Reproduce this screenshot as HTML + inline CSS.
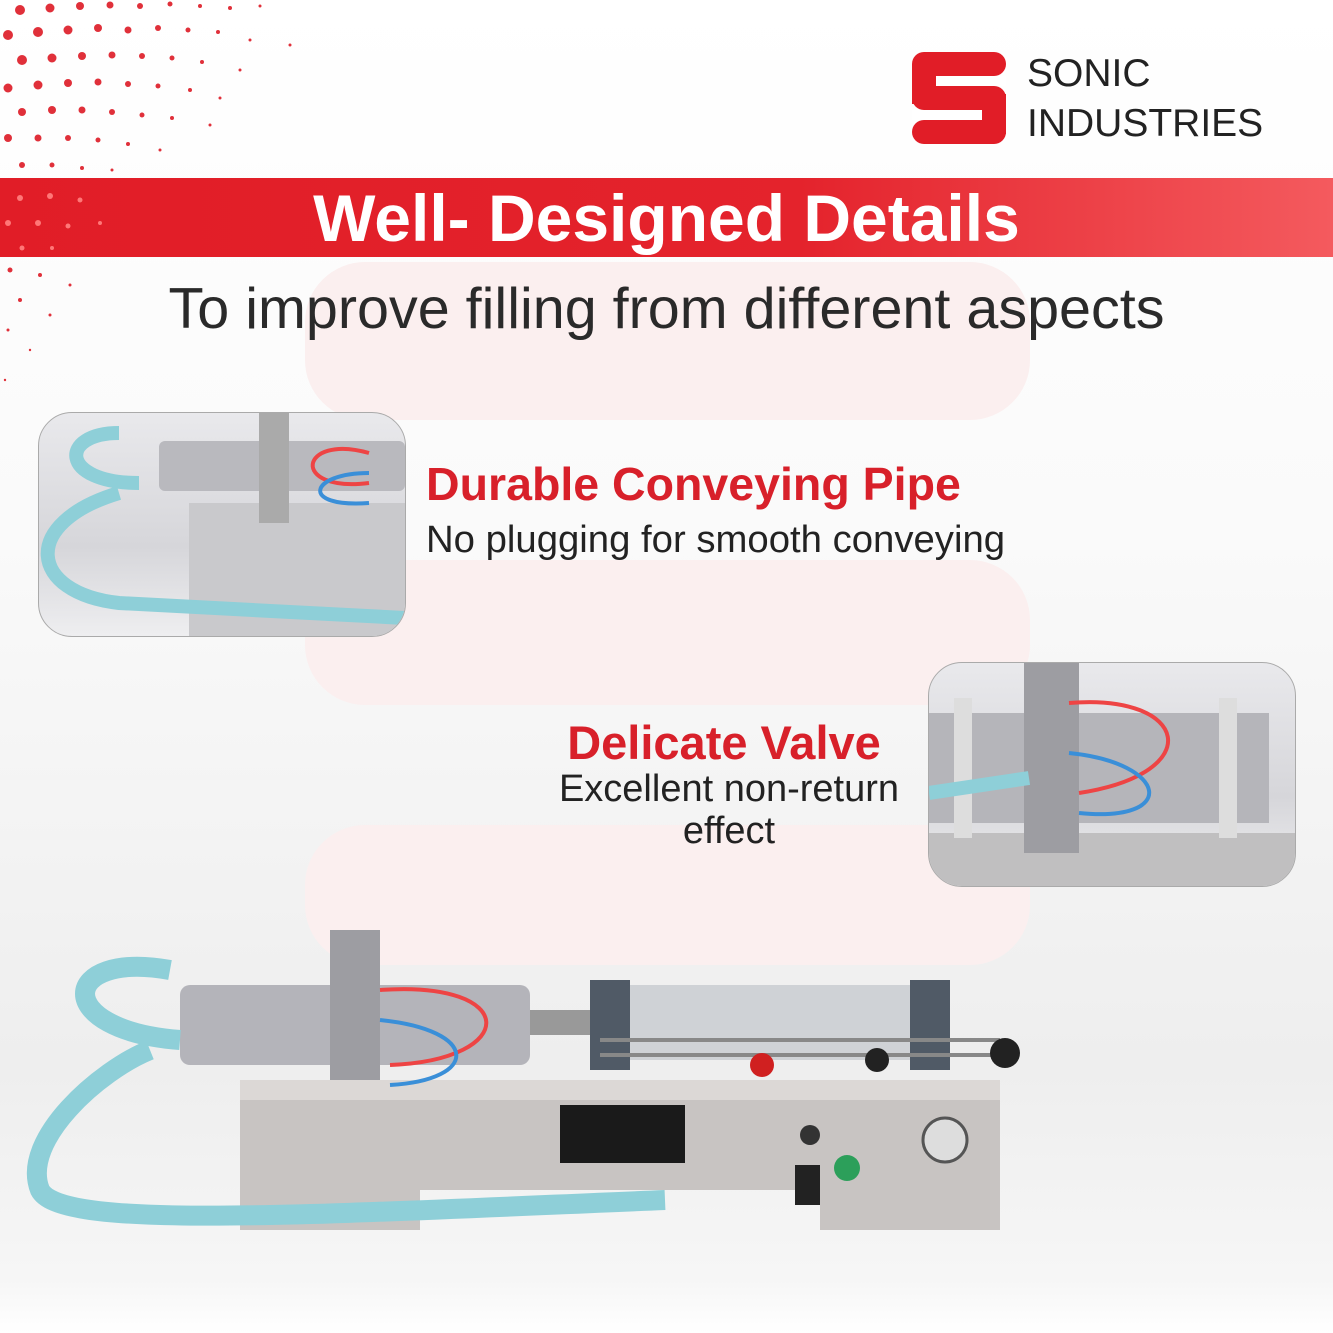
<!DOCTYPE html>
<html><head><meta charset="utf-8"><style>
body{margin:0;width:1333px;height:1333px;overflow:hidden;position:relative;font-family:"Liberation Sans",sans-serif;background:linear-gradient(#fff 0%,#fafafa 40%,#eeeeee 80%,#f6f6f6 96%,#fff 100%);}
.a{position:absolute}
.pink{position:absolute;background:#fbefef;border-radius:60px}
.t{position:absolute;white-space:nowrap}
.inset{position:absolute;border:1.5px solid #aaa;border-radius:34px;overflow:hidden;background:linear-gradient(#e9e9ec,#d6d6da 60%,#eeeef0)}
</style></head><body>
<svg class="a" style="left:0;top:0" width="330" height="400">
<g fill="#e0303a">
<circle cx="20" cy="10" r="5"/><circle cx="50" cy="8" r="4.5"/><circle cx="80" cy="6" r="4"/><circle cx="110" cy="5" r="3.5"/><circle cx="140" cy="6" r="3"/><circle cx="170" cy="4" r="2.5"/><circle cx="200" cy="6" r="2"/><circle cx="230" cy="8" r="2"/><circle cx="260" cy="6" r="1.5"/>
<circle cx="8" cy="35" r="5"/><circle cx="38" cy="32" r="5"/><circle cx="68" cy="30" r="4.5"/><circle cx="98" cy="28" r="4"/><circle cx="128" cy="30" r="3.5"/><circle cx="158" cy="28" r="3"/><circle cx="188" cy="30" r="2.5"/><circle cx="218" cy="32" r="2"/><circle cx="250" cy="40" r="1.5"/><circle cx="290" cy="45" r="1.5"/>
<circle cx="22" cy="60" r="5"/><circle cx="52" cy="58" r="4.5"/><circle cx="82" cy="56" r="4"/><circle cx="112" cy="55" r="3.5"/><circle cx="142" cy="56" r="3"/><circle cx="172" cy="58" r="2.5"/><circle cx="202" cy="62" r="2"/><circle cx="240" cy="70" r="1.5"/>
<circle cx="8" cy="88" r="4.5"/><circle cx="38" cy="85" r="4.5"/><circle cx="68" cy="83" r="4"/><circle cx="98" cy="82" r="3.5"/><circle cx="128" cy="84" r="3"/><circle cx="158" cy="86" r="2.5"/><circle cx="190" cy="90" r="2"/><circle cx="220" cy="98" r="1.5"/>
<circle cx="22" cy="112" r="4"/><circle cx="52" cy="110" r="4"/><circle cx="82" cy="110" r="3.5"/><circle cx="112" cy="112" r="3"/><circle cx="142" cy="115" r="2.5"/><circle cx="172" cy="118" r="2"/><circle cx="210" cy="125" r="1.5"/>
<circle cx="8" cy="138" r="4"/><circle cx="38" cy="138" r="3.5"/><circle cx="68" cy="138" r="3"/><circle cx="98" cy="140" r="2.5"/><circle cx="128" cy="144" r="2"/><circle cx="160" cy="150" r="1.5"/>
<circle cx="22" cy="165" r="3"/><circle cx="52" cy="165" r="2.5"/><circle cx="82" cy="168" r="2"/><circle cx="112" cy="170" r="1.5"/>
<circle cx="10" cy="270" r="2.5"/><circle cx="40" cy="275" r="2"/><circle cx="70" cy="285" r="1.5"/><circle cx="20" cy="300" r="2"/><circle cx="50" cy="315" r="1.5"/><circle cx="8" cy="330" r="1.5"/><circle cx="30" cy="350" r="1.2"/><circle cx="5" cy="380" r="1.2"/>
</g></svg>
<div class="pink" style="left:305px;top:262px;width:725px;height:158px"></div>
<div class="pink" style="left:305px;top:560px;width:725px;height:145px"></div>
<div class="pink" style="left:305px;top:825px;width:725px;height:140px"></div>
<div class="a" style="left:0;top:178px;width:1333px;height:79px;background:linear-gradient(90deg,#e11d27,#e4232c 60%,#f45a5e)"></div>
<svg class="a" style="left:0;top:178px" width="300" height="79"><g fill="#f77"><circle cx="20" cy="20" r="3"/><circle cx="50" cy="18" r="3"/><circle cx="80" cy="22" r="2.5"/><circle cx="8" cy="45" r="3"/><circle cx="38" cy="45" r="3"/><circle cx="68" cy="48" r="2.5"/><circle cx="100" cy="45" r="2"/><circle cx="22" cy="70" r="2.5"/><circle cx="52" cy="70" r="2"/></g></svg>
<div class="t" style="left:0;width:1333px;text-align:center;top:179px;font-size:66px;font-weight:bold;color:#fff;line-height:78px">Well- Designed Details</div>
<div class="t" style="left:0;width:1333px;text-align:center;top:277px;font-size:57.5px;color:#2a2a2a;line-height:64px">To improve filling from different aspects</div>
<svg class="a" style="left:910px;top:50px" width="98" height="98"><g fill="#e11d27"><rect x="2" y="2" width="94" height="24" rx="12"/><rect x="2" y="36" width="94" height="24" rx="12"/><rect x="2" y="70" width="94" height="24" rx="12"/><rect x="2" y="14" width="24" height="40"/><rect x="72" y="44" width="24" height="40"/></g><rect x="26" y="26" width="70" height="10" fill="#fff"/><rect x="2" y="60" width="70" height="10" fill="#fff"/></svg>
<div class="t" style="left:1027px;top:51px;font-size:39px;color:#222;line-height:46px">SONIC</div>
<div class="t" style="left:1027px;top:101px;font-size:39px;color:#222;line-height:46px">INDUSTRIES</div>
<div class="inset" style="left:38px;top:412px;width:366px;height:223px">
<svg width="366" height="223"><rect x="150" y="90" width="216" height="133" fill="#c9c9cc"/><rect x="120" y="28" width="246" height="50" fill="#b9b9be" rx="6"/><rect x="220" y="0" width="30" height="110" fill="#aaa"/><path d="M330 40 C260 20 250 80 330 70" stroke="#e44" stroke-width="4" fill="none"/><path d="M330 60 C270 60 260 95 330 90" stroke="#3a8fd8" stroke-width="4" fill="none"/><path d="M80 20 C20 20 20 70 100 70 M80 80 C-20 110 -10 180 80 190 L366 205" stroke="#8ecfd8" stroke-width="14" fill="none"/></svg></div>
<div class="t" style="left:426px;top:457px;font-size:46.5px;font-weight:bold;color:#d8202a;line-height:54px">Durable Conveying Pipe</div>
<div class="t" style="left:426px;top:518px;font-size:38.3px;color:#222;line-height:44px">No plugging for smooth conveying</div>
<div class="inset" style="left:928px;top:662px;width:366px;height:223px">
<svg width="366" height="223"><rect x="0" y="170" width="366" height="53" fill="#c0bfc0"/><rect x="0" y="50" width="340" height="110" fill="#b5b5ba"/><rect x="25" y="35" width="18" height="140" fill="#ddd"/><rect x="290" y="35" width="18" height="140" fill="#ddd"/><rect x="95" y="0" width="55" height="190" fill="#9d9da2"/><path d="M140 40 C260 30 280 110 150 130" stroke="#e44" stroke-width="4" fill="none"/><path d="M140 90 C240 100 250 160 150 150" stroke="#3a8fd8" stroke-width="4" fill="none"/><path d="M0 130 L100 115" stroke="#8ecfd8" stroke-width="14"/></svg></div>
<div class="t" style="left:524px;width:400px;text-align:center;top:716px;font-size:47px;font-weight:bold;color:#d8202a;line-height:54px">Delicate Valve</div>
<div class="t" style="left:529px;width:400px;text-align:center;top:768px;font-size:38px;color:#222;line-height:42px">Excellent non-return<br>effect</div>
<svg class="a" style="left:0;top:900px" width="1333" height="340">
<path d="M240 180 L1000 180 L1000 330 L820 330 L820 290 L420 290 L420 330 L240 330 Z" fill="#c8c4c2"/>
<path d="M240 180 L1000 180 L1000 200 L240 200Z" fill="#dcd8d6"/>
<rect x="560" y="205" width="125" height="58" fill="#1a1a1a"/>
<circle cx="945" cy="240" r="22" fill="#ddd" stroke="#555" stroke-width="3"/>
<circle cx="847" cy="268" r="13" fill="#2c9f5a"/>
<circle cx="810" cy="235" r="10" fill="#333"/>
<rect x="795" y="265" width="25" height="40" fill="#222"/>
<rect x="180" y="85" width="350" height="80" rx="10" fill="#b4b4ba"/>
<rect x="590" y="85" width="360" height="75" fill="#cfd2d6"/>
<rect x="590" y="80" width="40" height="90" fill="#505a66"/>
<rect x="910" y="80" width="40" height="90" fill="#505a66"/>
<rect x="530" y="110" width="60" height="25" fill="#999"/>
<rect x="330" y="30" width="50" height="150" fill="#9d9da2"/>
<path d="M600 140 L1000 140 M600 155 L1000 155" stroke="#888" stroke-width="4"/>
<circle cx="1005" cy="153" r="15" fill="#222"/>
<circle cx="762" cy="165" r="12" fill="#d02020"/><circle cx="877" cy="160" r="12" fill="#222"/>
<path d="M380 90 C520 80 520 160 390 165" stroke="#e44" stroke-width="4" fill="none"/>
<path d="M380 120 C480 130 480 180 390 185" stroke="#3a8fd8" stroke-width="4" fill="none"/>
<path d="M170 70 C60 50 50 130 180 140 M150 150 C100 170 20 240 40 290 C60 330 300 315 665 300" stroke="#8ecfd8" stroke-width="20" fill="none"/>
</svg>
</body></html>
